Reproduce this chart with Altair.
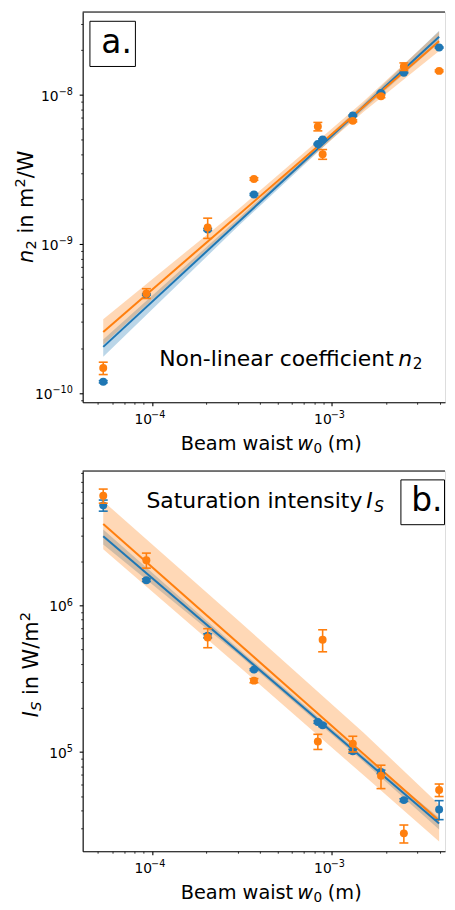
import altair as alt
import pandas as pd

# ---------------- data ----------------
w0 = [5.35e-5, 9.3e-5, 2.04e-4, 3.69e-4, 8.37e-4, 8.9e-4, 1.31e-3, 1.88e-3, 2.52e-3, 3.96e-3]

n2_blue = [1.19e-10, 4.58e-10, 1.25e-9, 2.15e-9, 4.68e-9, 5.03e-9, 7.27e-9, 1.03e-8, 1.41e-8, 2.08e-8]
n2_blue_err = [0.02e-10, 0.05e-10, 0.02e-9, 0.03e-9, 0.05e-9, 0.05e-9, 0.07e-9, 0.1e-9, 0.01e-8, 0.02e-8]
n2_orange = [1.47e-10, 4.66e-10, 1.29e-9, 2.73e-9, 6.14e-9, 4.0e-9, 6.7e-9, 9.8e-9, 1.55e-8, 1.45e-8]
n2_orange_err = [0.14e-10, 0.35e-10, 0.2e-9, 0.05e-9, 0.4e-9, 0.3e-9, 0.1e-9, 0.2e-9, 0.09e-8, 0.02e-8]

Is_blue = [4.83e6, 1.49e6, 6.21e5, 3.65e5, 1.6e5, 1.52e5, 1.01e5, 7.31e4, 4.69e4, 4.05e4]
Is_blue_err = [0.42e6, 0.03e6, 0.2e5, 0.05e5, 0.03e5, 0.03e5, 0.03e5, 0.2e4, 0.1e4, 0.6e4]
Is_orange = [5.62e6, 2.04e6, 6.05e5, 3.07e5, 1.18e5, 5.83e5, 1.14e5, 6.87e4, 2.78e4, 5.5e4]
Is_orange_err = [0.62e6, 0.24e6, 0.9e5, 0.1e5, 0.14e5, 1.0e5, 0.14e5, 1.25e4, 0.39e4, 0.54e4]

fit_w0 = [5.35e-5, 3.96e-3]
n2_fit_blue = [2.04e-10, 2.46e-8]
n2_fit_orange = [2.57e-10, 2.29e-8]
Is_fit_blue = [2.97e6, 3.25e4]
Is_fit_orange = [3.61e6, 3.39e4]

band_w0 = [5.35e-5, 3.0e-4, 1.5e-3, 3.96e-3]
n2_band_blue_lo = [1.75e-10, 1.31e-9, 7.96e-9, 2.24e-8]
n2_band_blue_hi = [2.29e-10, 1.47e-9, 8.73e-9, 2.70e-8]
n2_band_orange_lo = [2.11e-10, 1.42e-9, 7.67e-9, 1.97e-8]
n2_band_orange_hi = [3.13e-10, 1.70e-9, 9.02e-9, 2.66e-8]
Is_band_blue_lo = [2.61e6, 4.66e5, 8.59e4, 2.96e4]
Is_band_blue_hi = [3.30e6, 5.11e5, 9.42e4, 3.56e4]
Is_band_orange_lo = [2.42e6, 3.90e5, 6.95e4, 2.45e4]
Is_band_orange_hi = [5.16e6, 7.96e5, 1.36e5, 4.37e4]

# ticks and tick labels (10 with exponent)
x_major = [1e-4, 1e-3]
x_major_exp = ["−4", "−3"]
x_minor = [m * 1e-5 for m in range(5, 10)] + [m * 1e-4 for m in range(2, 10)] + [m * 1e-3 for m in range(2, 5)]
n2_major = [1e-10, 1e-9, 1e-8]
n2_major_exp = ["−10", "−9", "−8"]
n2_minor = [9e-11] + [m * 1e-10 for m in range(2, 10)] + [m * 1e-9 for m in range(2, 10)] + [2e-8, 3e-8]
Is_major = [1e5, 1e6]
Is_major_exp = ["5", "6"]
Is_minor = [m * 1e4 for m in range(3, 10)] + [m * 1e5 for m in range(2, 10)] + [m * 1e6 for m in range(2, 9)]

BLUE = "#1f77b4"
ORANGE = "#ff7f0e"
FONT = "DejaVu Sans"
TICK_FS = 13.9
SUP_FS = 9.7
GLYPH_W = {"−": 0.838, **{d: 0.636 for d in "0123456789"}}

W = 364
H_TOP = 392
H_BOT = 382
X_DOMAIN = [4.11e-5, 4.27e-3]
N2_DOMAIN = [8.67e-11, 3.6e-8]
IS_DOMAIN = [2.1e4, 8.3e6]

IS_MAJOR_TEST = "abs(log(datum.value)/LN10 - round(log(datum.value)/LN10)) < 0.001"


def exp_width(s):
    return sum(GLYPH_W[c] for c in s) * SUP_FS


def log_axis(majors, minors, orient):
    kw = dict(
        values=sorted(majors + minors),
        labelExpr="''",
        title=None,
        grid=False,
        orient=orient,
        labelFont=FONT,
        labelFontSize=TICK_FS,
        tickColor="black",
        domainColor="black",
        domainWidth=1.1,
        labelOverlap=False,
        labelFlush=False,
        tickSize={"condition": {"test": IS_MAJOR_TEST, "value": 3.5}, "value": 2},
        tickWidth={"condition": {"test": IS_MAJOR_TEST, "value": 1.1}, "value": 0.8},
    )
    if orient == "bottom":
        kw.update(labelPadding=7.5)
    else:
        kw.update(labelPadding=6, labelBaseline="middle")
    return alt.Axis(**kw)


def one():
    return alt.Data(values=[{"k": 0}])


def text_mark(txt, x, y, size, style="normal", align="left", angle=0):
    kw = dict(text=txt, font=FONT, fontSize=size, fontStyle=style, align=align,
              baseline="alphabetic", color="black")
    if angle:
        kw["angle"] = angle
    return alt.Chart(one()).mark_text(**kw).encode(x=alt.value(x), y=alt.value(y))


def panel(H, vals_b, err_b, vals_o, err_o, fit_b, fit_o, bb_lo, bb_hi, bo_lo, bo_hi,
          ydomain, ymaj, yexp, ymin, extra):
    xs = alt.Scale(type="log", domain=X_DOMAIN, nice=False)
    ys = alt.Scale(type="log", domain=ydomain, nice=False)
    xax = log_axis(x_major, x_minor, "bottom")
    yax = log_axis(ymaj, ymin, "left")
    X = alt.X("w0:Q", scale=xs, axis=xax)

    def Y(f):
        return alt.Y(f, scale=ys, axis=yax)

    layers = []
    # confidence bands
    for lo, hi, col in [(bb_lo, bb_hi, BLUE), (bo_lo, bo_hi, ORANGE)]:
        d = pd.DataFrame({"w0": band_w0, "lo": lo, "hi": hi})
        layers.append(alt.Chart(d).mark_area(color=col, opacity=0.3).encode(
            x=X, y=Y("lo:Q"), y2="hi:Q"))
    # fit lines
    for f, col in [(fit_b, BLUE), (fit_o, ORANGE)]:
        d = pd.DataFrame({"w0": fit_w0, "v": f})
        layers.append(alt.Chart(d).mark_line(color=col, strokeWidth=2).encode(
            x=X, y=Y("v:Q")))
    # data points with error bars
    for v, e, col in [(vals_b, err_b, BLUE), (vals_o, err_o, ORANGE)]:
        d = pd.DataFrame({"w0": w0, "v": v, "e": e})
        d["lo"] = d["v"] - d["e"]
        d["hi"] = d["v"] + d["e"]
        caps = pd.DataFrame({"w0": w0 + w0, "c": list(d["lo"]) + list(d["hi"])})
        layers.append(alt.Chart(d).mark_rule(color=col, strokeWidth=1.6).encode(
            x=X, y=Y("lo:Q"), y2="hi:Q"))
        layers.append(alt.Chart(caps).mark_tick(color=col, orient="horizontal", size=9,
                                                thickness=1.6, opacity=1).encode(
            x=X, y=Y("c:Q")))
        layers.append(alt.Chart(d).mark_circle(color=col, size=64, opacity=1).encode(
            x=X, y=Y("v:Q")))
    # top spine
    layers.append(alt.Chart(one()).mark_rule(color="black", strokeWidth=1.1).encode(
        x=alt.value(0), x2=alt.value(W), y=alt.value(0)))

    # x tick labels: "10" + superscript exponent
    xl = pd.DataFrame({"w0": x_major, "e": x_major_exp})
    layers.append(alt.Chart(xl).mark_text(text="10", font=FONT, fontSize=TICK_FS, align="right",
                                          baseline="alphabetic", color="black").encode(
        x=X, y=alt.value(H + 22)))
    layers.append(alt.Chart(xl).mark_text(font=FONT, fontSize=SUP_FS, align="left", dx=-1,
                                          baseline="alphabetic", color="black").encode(
        x=X, y=alt.value(H + 16), text="e:N"))
    # y tick labels
    for val, ex in zip(ymaj, yexp):
        yl = pd.DataFrame({"v": [val], "e": [ex]})
        layers.append(alt.Chart(yl).mark_text(text="10", font=FONT, fontSize=TICK_FS, align="right",
                                              baseline="alphabetic", dy=6, color="black").encode(
            x=alt.value(-9.8 - exp_width(ex)), y=Y("v:Q")))
        layers.append(alt.Chart(yl).mark_text(font=FONT, fontSize=SUP_FS, align="right",
                                              baseline="alphabetic", dy=0.4, color="black").encode(
            x=alt.value(-9.8), y=Y("v:Q"), text="e:N"))
    layers += extra
    return alt.layer(*layers).properties(width=W, height=H)


def xtitle(H):
    y = H + 48
    return [
        text_mark("Beam waist", 211.5, y, 19.4, align="right"),
        text_mark("w", 215.5, y, 19.4, style="italic"),
        text_mark("0", 231.8, y + 3, 13.6),
        text_mark("(m)", 246.3, y, 19.4),
    ]


def box(x1, y1, x2, y2):
    return alt.Chart(one()).mark_rect(fill="white", stroke="black", strokeWidth=1).encode(
        x=alt.value(x1), x2=alt.value(x2), y=alt.value(y1), y2=alt.value(y2))


top_extra = [
    text_mark("Non-linear coefficient", 312.5, 355.3, 22, align="right"),
    text_mark("n", 317, 355.3, 22, style="italic"),
    text_mark("2", 331.5, 358.8, 15.4),
    box(7.3, 9.3, 53, 54.7),
    text_mark("a.", 18.7, 41, 33),
    # y title (rotated): n_2 in m^2/W
    text_mark("n", -50.3, 252, 21, style="italic", angle=270),
    text_mark("2", -46.8, 238.5, 14.7, angle=270),
    text_mark("in m", -50.3, 222.6, 21, angle=270),
    text_mark("2", -58.3, 176.3, 14.7, angle=270),
    text_mark("/W", -50.3, 166.9, 21, angle=270),
] + xtitle(H_TOP)

bottom_extra = [
    text_mark("Saturation intensity", 281, 37.3, 22, align="right"),
    text_mark("I", 285, 37.3, 22, style="italic"),
    text_mark("S", 293, 40.8, 15.4, style="italic"),
    box(319.7, 9, 363.5, 54),
    text_mark("b.", 330, 40.5, 33),
    # y title (rotated): I_S in W/m^2
    text_mark("I", -45.3, 247.4, 21, style="italic", angle=270),
    text_mark("S", -41.8, 241, 14.7, style="italic", angle=270),
    text_mark("in W/m", -45.3, 225.2, 21, angle=270),
    text_mark("2", -53.3, 151.1, 14.7, angle=270),
] + xtitle(H_BOT)

top = panel(H_TOP, n2_blue, n2_blue_err, n2_orange, n2_orange_err, n2_fit_blue, n2_fit_orange,
            n2_band_blue_lo, n2_band_blue_hi, n2_band_orange_lo, n2_band_orange_hi,
            N2_DOMAIN, n2_major, n2_major_exp, n2_minor, top_extra)
bottom = panel(H_BOT, Is_blue, Is_blue_err, Is_orange, Is_orange_err, Is_fit_blue, Is_fit_orange,
               Is_band_blue_lo, Is_band_blue_hi, Is_band_orange_lo, Is_band_orange_hi,
               IS_DOMAIN, Is_major, Is_major_exp, Is_minor, bottom_extra)

chart = alt.vconcat(top, bottom, spacing=8).properties(
    padding={"left": 4, "top": 0, "right": 0, "bottom": 0}
).configure_view(stroke=None).configure(background="white")

chart.save("out.html", embed_options={"renderer": "svg", "actions": False})
